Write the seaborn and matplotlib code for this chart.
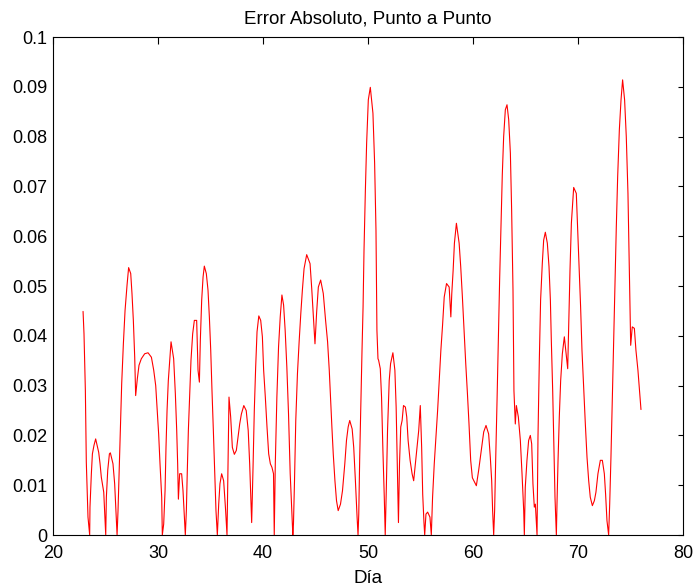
import matplotlib
matplotlib.use("Agg")
import matplotlib.pyplot as plt
import seaborn as sns
import pandas as pd
from matplotlib.ticker import FuncFormatter, MultipleLocator

dia = [22.86, 22.95, 23.08, 23.17, 23.33, 23.49, 23.52, 23.65, 23.75, 23.90, 24.06, 24.35, 24.48, 24.60, 24.83, 25.02, 25.08, 25.21, 25.37, 25.46, 25.71, 25.87, 26.00, 26.10,
       26.19, 26.29, 26.41, 26.54, 26.70, 26.86, 27.05, 27.20, 27.40, 27.52, 27.65, 27.78, 27.87, 28.03, 28.19, 28.41, 28.73, 29.05, 29.37, 29.59, 29.78, 29.90, 30.06, 30.19, 30.35, 30.41,
       30.54, 30.67, 30.76, 30.86, 30.98, 31.24, 31.49, 31.65, 31.78, 31.87, 31.94, 32.06, 32.25, 32.38, 32.51, 32.60,
       32.70, 32.79, 32.89, 33.02, 33.14, 33.30, 33.46, 33.68, 33.81, 33.94, 34.03, 34.16, 34.29, 34.41, 34.60, 34.76, 34.89, 35.02, 35.14, 35.27, 35.40, 35.52, 35.65,
       35.78, 35.90, 36.06, 36.25, 36.44, 36.57, 36.67, 36.76, 36.92, 37.08, 37.27, 37.46, 37.62, 37.78, 37.94, 38.17, 38.40, 38.59, 38.73, 38.92, 39.05, 39.17, 39.30, 39.43, 39.60, 39.78, 39.94, 40.06, 40.22,
       40.38, 40.54, 40.70, 40.85, 41.00, 41.07,
       41.17, 41.32, 41.48, 41.64, 41.80, 41.96, 42.11, 42.27, 42.43, 42.59, 42.84,
       42.90, 43.00, 43.12, 43.28, 43.44, 43.60, 43.75, 43.91, 44.16, 44.48, 44.64, 44.80, 44.95, 45.11, 45.27, 45.49, 45.74, 45.96, 46.15, 46.31, 46.44, 46.56, 46.69, 46.85, 47.00, 47.16, 47.38, 47.57, 47.79, 47.95, 48.11, 48.26, 48.49, 48.64, 48.80, 48.96, 49.05,
       49.12, 49.21, 49.31, 49.43, 49.53, 49.62, 49.75, 49.87, 50.03, 50.22, 50.47, 50.63, 50.76, 50.85, 50.95, 51.01, 51.17, 51.29, 51.42, 51.55, 51.64,
       51.74, 51.86, 52.02, 52.15, 52.37, 52.56, 52.68, 52.78, 52.90, 53.00, 53.12, 53.25, 53.38, 53.56, 53.69, 53.82, 54.01, 54.20, 54.35, 54.51, 54.67, 54.83, 54.98, 55.11, 55.21, 55.33, 55.40, 55.52, 55.68, 55.90, 56.03,
       56.15, 56.31, 56.47, 56.63, 56.78, 56.94, 57.10, 57.26, 57.48, 57.73, 57.89, 57.98, 58.11, 58.23, 58.42, 58.68, 58.83, 58.99, 59.15, 59.31, 59.47, 59.62, 59.78, 59.94, 60.32,
       60.54, 60.70, 60.86, 61.02, 61.24, 61.49, 61.65, 61.78, 61.87, 61.97,
       62.06, 62.16, 62.29, 62.41, 62.54, 62.67, 62.79, 62.92, 63.08, 63.24, 63.40, 63.56, 63.68, 63.81, 63.90, 64.03, 64.13, 64.32, 64.51, 64.67, 64.83, 64.89,
       64.98, 65.14, 65.30, 65.46, 65.59, 65.71, 65.84, 65.94, 66.10,
       66.19, 66.32, 66.44, 66.60, 66.73, 66.89, 67.08, 67.24, 67.37, 67.46, 67.59, 67.71, 67.81, 67.94,
       68.00, 68.10, 68.22, 68.35, 68.51, 68.70, 69.02, 69.11, 69.24, 69.37, 69.59, 69.84, 70.00, 70.13, 70.25, 70.38, 70.54, 70.70, 70.86, 71.02, 71.17, 71.37, 71.56, 71.71, 71.90, 72.13, 72.32, 72.51, 72.63, 72.76, 72.92,
       73.02, 73.14, 73.27, 73.40, 73.52, 73.65, 73.78, 73.94, 74.10, 74.25, 74.44, 74.60, 74.76, 74.89, 75.02, 75.17, 75.37, 75.52, 75.71, 75.87, 76.00]
error = [0.0449, 0.0404, 0.0290, 0.0146, 0.0036, 0.0000, 0.0056, 0.0123, 0.0163, 0.0180, 0.0193, 0.0166, 0.0143, 0.0116, 0.0086, 0.0000, 0.0076, 0.0130, 0.0163, 0.0165, 0.0143, 0.0103, 0.0042, 0.0000,
         0.0049, 0.0123, 0.0217, 0.0304, 0.0384, 0.0451, 0.0502, 0.0537, 0.0525, 0.0485, 0.0431, 0.0357, 0.0280, 0.0314, 0.0341, 0.0354, 0.0364, 0.0366, 0.0357, 0.0331, 0.0300, 0.0257, 0.0203, 0.0143, 0.0076, 0.0000,
         0.0022, 0.0089, 0.0176, 0.0250, 0.0310, 0.0388, 0.0354, 0.0284, 0.0210, 0.0143, 0.0072, 0.0123, 0.0123, 0.0089, 0.0036, 0.0000,
         0.0049, 0.0130, 0.0210, 0.0284, 0.0351, 0.0404, 0.0431, 0.0431, 0.0331, 0.0307, 0.0391, 0.0472, 0.0518, 0.0540, 0.0525, 0.0492, 0.0438, 0.0371, 0.0290, 0.0210, 0.0123, 0.0049, 0.0000,
         0.0062, 0.0103, 0.0123, 0.0109, 0.0049, 0.0000, 0.0143, 0.0277, 0.0237, 0.0176, 0.0162, 0.0170, 0.0197, 0.0223, 0.0243, 0.0260, 0.0250, 0.0210, 0.0143, 0.0025, 0.0136, 0.0250, 0.0337, 0.0408, 0.0440, 0.0431, 0.0398, 0.0331, 0.0277,
         0.0217, 0.0163, 0.0143, 0.0136, 0.0123, 0.0000,
         0.0143, 0.0277, 0.0378, 0.0438, 0.0482, 0.0462, 0.0411, 0.0337, 0.0243, 0.0123, 0.0000,
         0.0022, 0.0109, 0.0230, 0.0324, 0.0388, 0.0445, 0.0492, 0.0535, 0.0563, 0.0545, 0.0495, 0.0438, 0.0384, 0.0448, 0.0498, 0.0512, 0.0485, 0.0431, 0.0388, 0.0331, 0.0270, 0.0217, 0.0163, 0.0109, 0.0069, 0.0049, 0.0062, 0.0089, 0.0143, 0.0190, 0.0217, 0.0230, 0.0213, 0.0176, 0.0109, 0.0036, 0.0000,
         0.0042, 0.0156, 0.0257, 0.0371, 0.0458, 0.0572, 0.0693, 0.0787, 0.0874, 0.0899, 0.0847, 0.0747, 0.0612, 0.0411, 0.0354, 0.0351, 0.0334, 0.0277, 0.0170, 0.0076, 0.0000,
         0.0089, 0.0210, 0.0310, 0.0344, 0.0366, 0.0331, 0.0257, 0.0156, 0.0025, 0.0143, 0.0217, 0.0230, 0.0260, 0.0257, 0.0237, 0.0190, 0.0150, 0.0123, 0.0109, 0.0143, 0.0176, 0.0210, 0.0260, 0.0176, 0.0082, 0.0025, 0.0000, 0.0042, 0.0046, 0.0036, 0.0000,
         0.0076, 0.0143, 0.0197, 0.0250, 0.0310, 0.0371, 0.0421, 0.0478, 0.0505, 0.0498, 0.0438, 0.0485, 0.0532, 0.0586, 0.0626, 0.0586, 0.0539, 0.0478, 0.0411, 0.0344, 0.0284, 0.0223, 0.0150, 0.0115, 0.0099,
         0.0130, 0.0156, 0.0183, 0.0207, 0.0220, 0.0203, 0.0156, 0.0109, 0.0049, 0.0000,
         0.0049, 0.0150, 0.0270, 0.0391, 0.0515, 0.0626, 0.0723, 0.0800, 0.0854, 0.0864, 0.0834, 0.0767, 0.0653, 0.0492, 0.0290, 0.0223, 0.0260, 0.0237, 0.0190, 0.0123, 0.0049, 0.0000,
         0.0096, 0.0150, 0.0190, 0.0200, 0.0183, 0.0103, 0.0056, 0.0062, 0.0000,
         0.0197, 0.0354, 0.0472, 0.0545, 0.0592, 0.0608, 0.0586, 0.0539, 0.0472, 0.0391, 0.0290, 0.0176, 0.0076, 0.0000,
         0.0062, 0.0150, 0.0237, 0.0310, 0.0364, 0.0398, 0.0334, 0.0418, 0.0532, 0.0626, 0.0698, 0.0686, 0.0599, 0.0532, 0.0458, 0.0371, 0.0297, 0.0223, 0.0156, 0.0109, 0.0076, 0.0059, 0.0069, 0.0086, 0.0123, 0.0150, 0.0150, 0.0123, 0.0082, 0.0029, 0.0000,
         0.0062, 0.0156, 0.0270, 0.0391, 0.0505, 0.0619, 0.0720, 0.0814, 0.0874, 0.0914, 0.0874, 0.0800, 0.0686, 0.0532, 0.0381, 0.0418, 0.0415, 0.0371, 0.0331, 0.0287, 0.0252]

df = pd.DataFrame({"Día": dia, "Error": error})

sns.set_style("white")
plt.rcParams["font.family"] = ["Liberation Sans", "DejaVu Sans"]
plt.rcParams["text.color"] = "black"
plt.rcParams["axes.labelcolor"] = "black"

fig = plt.figure(figsize=(6.95, 5.88), dpi=100)
ax = fig.add_axes([0.0763, 0.0901, 0.9064, 0.8469])
sns.lineplot(data=df, x="Día", y="Error", ax=ax, color="red", linewidth=0.8,
             estimator=None, sort=False)

ax.set_xlim(20, 80)
ax.set_ylim(0, 0.1)
ax.xaxis.set_major_locator(MultipleLocator(10))
ax.yaxis.set_major_locator(MultipleLocator(0.01))
ax.yaxis.set_major_formatter(FuncFormatter(lambda v, p: "%g" % round(v, 4)))
ax.tick_params(axis="both", direction="in", top=True, right=True, width=0.8,
               labelsize=13, colors="black")
ax.tick_params(axis="x", length=5, pad=7)
ax.tick_params(axis="y", length=3.8, pad=4)
for s in ax.spines.values():
    s.set_visible(True)
    s.set_color("black")
    s.set_linewidth(0.8)
ax.set_xlabel("Día", fontsize=13.5, labelpad=6, color="black")
ax.set_ylabel("")
ax.set_title("Error Absoluto, Punto a Punto", fontsize=13.5, pad=10, color="black")

fig.savefig("out.png", dpi=100)
